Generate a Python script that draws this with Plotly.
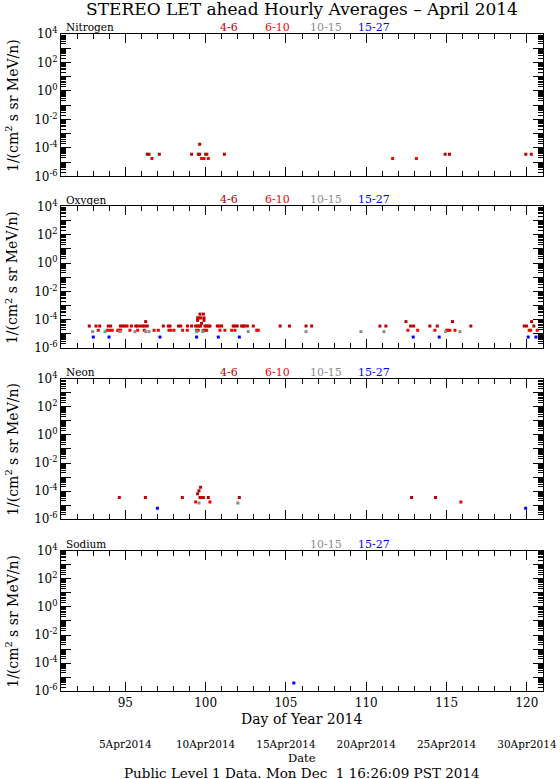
import plotly.graph_objects as go

# STEREO LET ahead hourly averages, April 2014 (day of year 91-121)
FONT = "DejaVu Serif"

chan_names = ["4-6", "6-10", "10-15", "15-27"]
chan_colors = ["#c00000", "#ff0000", "#8c8c8c", "#0000ff"]
panel_names = ["Nitrogen", "Oxygen", "Neon", "Sodium"]

# Nitrogen
n46_x = [96.37, 96.48, 97.12, 99.13, 99.55, 99.63, 99.63, 100.0, 100.08, 101.17,
         114.91, 115.18, 119.93, 120.27]
n46_y = [3.6e-5, 3.6e-5, 3.6e-5, 3.6e-5, 3.6e-5, 3.6e-5, 1.8e-4, 3.6e-5, 3.6e-5, 3.6e-5,
         3.6e-5, 3.6e-5, 3.6e-5, 3.6e-5]
n610_x = [96.66, 99.75, 99.9, 100.17, 111.64, 113.12]
n610_y = [1.8e-5, 1.8e-5, 1.8e-5, 1.8e-5, 1.8e-5, 1.8e-5]

# Oxygen
o46_x = [92.76, 93.18, 93.41, 93.94, 94.09, 94.7, 94.84, 94.96, 95.11, 95.38,
         95.65, 95.75, 95.92, 96.08, 96.21, 96.37, 97.37, 97.68, 97.79, 98.31,
         98.45, 98.87, 99.13, 99.38, 99.51, 99.59, 99.69, 99.96, 100.06, 100.19,
         100.27, 100.73, 100.85, 101.0, 101.72, 101.83, 101.97, 102.24, 102.35, 102.41,
         102.6, 102.97, 104.64, 105.22, 106.25, 106.6, 110.85, 111.22, 112.76, 112.95,
         113.96, 114.42, 116.51, 119.83, 119.98, 120.43,
         96.27, 99.65, 99.86, 99.5, 99.6, 99.7, 99.9, 99.5, 99.9, 99.75,
         112.47, 115.37, 120.29]
o46_y = [3.6e-5] * 56 + [7.4e-5, 2.5e-4, 2.5e-4, 1.35e-4, 1.35e-4, 1.35e-4, 1.35e-4,
                         9.0e-5, 9.0e-5, 5.5e-5, 7.4e-5, 7.4e-5, 7.4e-5]
o610_x = [93.32, 93.88, 94.05, 94.19, 94.53, 94.61, 94.71, 95.29, 95.77, 96.18,
          96.79, 97.06, 97.72, 97.83, 98.03, 98.57, 98.86, 99.44, 99.54, 99.86,
          99.96, 100.07, 100.89, 101.2, 101.62, 101.83, 103.18, 103.28,
          112.59, 113.2, 114.27, 115.0, 115.1, 115.2, 115.52, 120.14, 120.23, 120.64]
o610_y = [1.8e-5] * 38
o1015_x = [92.97, 93.74, 94.67, 95.6, 96.27, 96.48, 99.44, 99.82, 102.65,
           106.25, 109.67, 111.1, 114.94, 115.83]
o1015_y = [1.45e-5] * 14
o1527_x = [93.01, 93.99, 97.16, 99.44, 100.79, 102.1, 112.92, 114.54, 120.08, 120.56]
o1527_y = [6.0e-6] * 10

# Neon
ne46_x = [94.63, 96.25, 98.55, 99.65, 99.75, 99.86, 100.17, 102.1, 112.82, 114.31,
          99.69, 99.59, 99.5]
ne46_y = [3.5e-5] * 10 + [1.9e-4, 1.06e-4, 6.5e-5]
ne610_x = [99.38, 100.27, 115.89]
ne610_y = [1.7e-5, 1.7e-5, 1.7e-5]
ne1015_x = [99.59, 102.01]
ne1015_y = [1.4e-5, 1.4e-5]
ne1527_x = [91.19, 97.0, 119.92]
ne1527_y = [6.0e-6, 6.0e-6, 6.0e-6]

# Sodium
na1527_x = [105.49]
na1527_y = [3.9e-6]

panels = [
    [(n46_x, n46_y, 0), (n610_x, n610_y, 1)],
    [(o46_x, o46_y, 0), (o610_x, o610_y, 1), (o1015_x, o1015_y, 2), (o1527_x, o1527_y, 3)],
    [(ne46_x, ne46_y, 0), (ne610_x, ne610_y, 1), (ne1015_x, ne1015_y, 2), (ne1527_x, ne1527_y, 3)],
    [(na1527_x, na1527_y, 3)],
]
panel_channels = [[0, 1, 2, 3], [0, 1, 2, 3], [0, 1, 2, 3], [2, 3]]

day_ticks = [95, 100, 105, 110, 115, 120]
date_ticks = [95, 100, 105, 110, 115, 120]
date_labels = ["5Apr2014", "10Apr2014", "15Apr2014", "20Apr2014", "25Apr2014", "30Apr2014"]

# panel domains (paper fractions, top to bottom)
domains = [[0.7972, 1.0], [0.5526, 0.7544], [0.3089, 0.5088], [0.0637, 0.2641]]
PX = 1 / 701.6  # one pixel in paper units (plot area height)

fig = go.Figure()

for i, series in enumerate(panels):
    ax = "" if i == 0 else str(i + 1)
    for xs, ys, c in series:
        fig.add_trace(go.Scatter(
            x=xs, y=ys, mode="markers", xaxis="x" + ax, yaxis="y" + ax,
            marker=dict(symbol="square", size=3, color=chan_colors[c], line=dict(width=0)),
            showlegend=False, hoverinfo="skip"))

# empty trace so the date axis gets drawn
fig.add_trace(go.Scatter(x=date_ticks, y=[None] * len(date_ticks), xaxis="x5", yaxis="y4",
                         mode="markers", showlegend=False, hoverinfo="skip"))

ytickvals = [10.0 ** k for k in range(-6, 5)]
yticktext = ["10<sup>%d</sup>" % k if k % 2 == 0 else "" for k in range(-6, 5)]
yminor = [m * 10.0 ** k for k in range(-6, 4) for m in range(2, 10)]

annotations = []
for i in range(4):
    ax = "" if i == 0 else str(i + 1)
    fig.layout["xaxis" + ax] = dict(
        domain=[0, 1], anchor="y" + ax, range=[91, 121], automargin=False,
        tickmode="array", tickvals=day_ticks, ticks="inside", ticklen=9, tickwidth=1,
        tickcolor="black", showline=True, linecolor="black", linewidth=1, mirror="ticks",
        showgrid=False, zeroline=False, showticklabels=(i == 3),
        tickfont=dict(family=FONT, size=12, color="black"),
        minor=dict(dtick=1, tick0=91, ticks="inside", ticklen=5, tickcolor="black", showgrid=False),
    )
    fig.layout["yaxis" + ax] = dict(
        domain=domains[i], anchor="x" + ax, type="log", range=[-6, 4], automargin=False,
        tickmode="array", tickvals=ytickvals, ticktext=yticktext,
        ticks="inside", ticklen=10, tickwidth=1, tickcolor="black",
        showline=True, linecolor="black", linewidth=1, mirror="ticks",
        showgrid=False, zeroline=False,
        tickfont=dict(family=FONT, size=12, color="black"),
        minor=dict(tickmode="array", tickvals=yminor, ticks="inside", ticklen=5,
                   tickcolor="black", showgrid=False),
    )
    label_y = domains[i][1] + 6.5 * PX
    annotations.append(dict(
        text=panel_names[i], xref="paper", yref="paper", x=0.006, y=label_y,
        xanchor="left", yanchor="middle", showarrow=False,
        font=dict(family=FONT, size=10.5, color="black")))
    label_x = [0.3485, 0.4502, 0.5498, 0.6494]
    for c in panel_channels[i]:
        annotations.append(dict(
            text=chan_names[c], xref="paper", yref="paper", x=label_x[c], y=label_y,
            xanchor="center", yanchor="middle", showarrow=False,
            font=dict(family=FONT, size=11, color=chan_colors[c])))
    annotations.append(dict(
        text="1/(cm<sup>2</sup> s sr MeV/n)", xref="paper", yref="paper",
        x=-0.102, y=(domains[i][0] + domains[i][1]) / 2, textangle=-90,
        xanchor="center", yanchor="middle", showarrow=False,
        font=dict(family=FONT, size=14, color="black")))

# date axis under the bottom panel
fig.layout["xaxis5"] = dict(
    overlaying="x4", anchor="free", position=0, range=[91, 121], side="bottom",
    automargin=False,
    tickmode="array", tickvals=date_ticks, ticktext=date_labels, ticks="",
    showline=False, showgrid=False, zeroline=False,
    tickfont=dict(family=FONT, size=10.5, color="black"),
)

annotations.append(dict(text="Day of Year 2014", xref="paper", yref="paper", x=0.5,
                        y=17 * PX, xanchor="center", yanchor="middle",
                        showarrow=False, font=dict(family=FONT, size=14, color="black")))
annotations.append(dict(text="Date", xref="paper", yref="paper", x=0.5,
                        y=-21.5 * PX, xanchor="center", yanchor="middle", borderpad=0,
                        showarrow=False, font=dict(family=FONT, size=11.5, color="black")))
annotations.append(dict(text="Public Level 1 Data. Mon Dec  1 16:26:09 PST 2014",
                        xref="paper", yref="paper", x=0.5, y=-36.5 * PX,
                        xanchor="center", yanchor="middle", showarrow=False, borderpad=0,
                        font=dict(family=FONT, size=13.5, color="black")))

fig.update_layout(
    width=560, height=779,
    margin=dict(l=61, r=17, t=34, b=43),
    paper_bgcolor="white", plot_bgcolor="white",
    title=dict(text="STEREO LET ahead Hourly Averages \u2013 April 2014", x=0.5, xref="paper",
               y=1 - 9 / 779, yanchor="middle",
               font=dict(family=FONT, size=17, color="black")),
    annotations=annotations,
)

fig.write_html("out.html", config={"displayModeBar": False},
               post_script="document.body.style.margin='0';")
